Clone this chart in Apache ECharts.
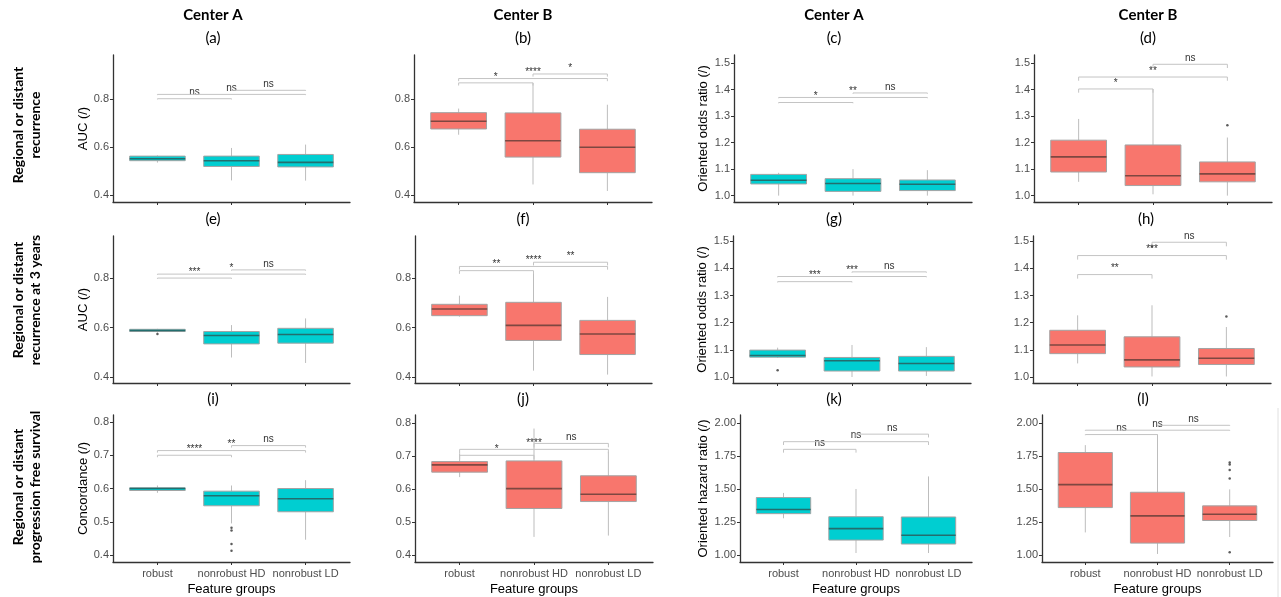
<!DOCTYPE html>
<html>
<head>
<meta charset="utf-8">
<script src="https://cdn.jsdelivr.net/npm/echarts@6/dist/echarts.min.js"></script>
<style>
  html, body { margin: 0; padding: 0; background: #fff; }
  #chart { width: 1281px; height: 597px; }
</style>
</head>
<body>
<div id="chart"></div>
<script>
const groups = ["robust", "nonrobust HD", "nonrobust LD"];
const aucTicks = [0.4, 0.6, 0.8];
const concTicks = [0.4, 0.5, 0.6, 0.7, 0.8];
const oddsTicks = [1.0, 1.1, 1.2, 1.3, 1.4, 1.5];
const hazardTicks = [1.0, 1.25, 1.5, 1.75, 2.0];

// box stats per group: [min, q1, median, q3, max]
// outliers: [groupIndex, value]; brackets: [from, to, height, label]
const aBox = [[0.535, 0.543, 0.551, 0.562, 0.565], [0.461, 0.519, 0.543, 0.562, 0.596], [0.46, 0.517, 0.536, 0.569, 0.61]];
const aOut = [];
const aSig = [[0, 1, 0.801, "ns"], [0, 2, 0.819, "ns"], [1, 2, 0.836, "ns"]];

const bBox = [[0.651, 0.675, 0.707, 0.743, 0.76], [0.444, 0.558, 0.626, 0.742, 0.867], [0.417, 0.493, 0.599, 0.674, 0.776]];
const bOut = [];
const bSig = [[0, 1, 0.867, "*"], [0, 2, 0.885, "****"], [1, 2, 0.904, "*"]];

const cBox = [[1.0, 1.044, 1.058, 1.08, 1.086], [1.0, 1.016, 1.046, 1.064, 1.1], [1.0, 1.019, 1.043, 1.059, 1.096]];
const cOut = [];
const cSig = [[0, 1, 1.351, "*"], [0, 2, 1.37, "**"], [1, 2, 1.387, "ns"]];

const dBox = [[1.052, 1.089, 1.146, 1.209, 1.289], [1.005, 1.038, 1.075, 1.191, 1.402], [1.0, 1.052, 1.082, 1.127, 1.219]];
const dOut = [[2, 1.265]];
const dSig = [[0, 1, 1.402, "*"], [0, 2, 1.447, "**"], [1, 2, 1.495, "ns"]];

const eBox = [[0.58, 0.584, 0.588, 0.593, 0.595], [0.479, 0.534, 0.568, 0.584, 0.61], [0.457, 0.537, 0.572, 0.597, 0.637]];
const eOut = [[0, 0.574]];
const eSig = [[0, 1, 0.8, "***"], [0, 2, 0.816, "*"], [1, 2, 0.833, "ns"]];

const fBox = [[0.644, 0.648, 0.675, 0.694, 0.729], [0.426, 0.548, 0.609, 0.702, 0.827], [0.41, 0.491, 0.574, 0.629, 0.724]];
const fOut = [];
const fSig = [[0, 1, 0.83, "**"], [0, 2, 0.847, "****"], [1, 2, 0.864, "**"]];

const gBox = [[1.07, 1.073, 1.079, 1.099, 1.108], [1.0, 1.022, 1.06, 1.072, 1.118], [1.004, 1.022, 1.05, 1.076, 1.11]];
const gOut = [[0, 1.025]];
const gSig = [[0, 1, 1.351, "***"], [0, 2, 1.37, "***"], [1, 2, 1.387, "ns"]];

const hBox = [[1.05, 1.086, 1.118, 1.172, 1.227], [1.002, 1.037, 1.063, 1.148, 1.264], [1.002, 1.046, 1.069, 1.105, 1.184]];
const hOut = [[1, 1.48], [2, 1.223]];
const hSig = [[0, 1, 1.377, "**"], [0, 2, 1.447, "***"], [1, 2, 1.496, "ns"]];

const iBox = [[0.587, 0.594, 0.6, 0.602, 0.609], [0.495, 0.548, 0.578, 0.592, 0.609], [0.446, 0.53, 0.569, 0.6, 0.625]];
const iOut = [[1, 0.482], [1, 0.474], [1, 0.433], [1, 0.413]];
const iSig = [[0, 1, 0.7, "****"], [0, 2, 0.714, "**"], [1, 2, 0.729, "ns"]];

const jBox = [[0.636, 0.651, 0.673, 0.683, 0.708], [0.455, 0.541, 0.601, 0.685, 0.783], [0.459, 0.562, 0.584, 0.64, 0.713]];
const jOut = [];
const jSig = [[0, 1, 0.702, "*"], [0, 2, 0.72, "****"], [1, 2, 0.738, "ns"]];

const kBox = [[1.278, 1.313, 1.345, 1.435, 1.47], [1.015, 1.113, 1.2, 1.29, 1.5], [1.015, 1.083, 1.15, 1.288, 1.595]];
const kOut = [];
const kSig = [[0, 1, 1.8, "ns"], [0, 2, 1.858, "ns"], [1, 2, 1.915, "ns"]];

const lBox = [[1.171, 1.359, 1.533, 1.776, 1.832], [1.008, 1.09, 1.296, 1.475, 1.912], [1.136, 1.261, 1.309, 1.372, 1.497]];
const lOut = [[2, 1.7], [2, 1.686], [2, 1.643], [2, 1.58], [2, 1.02]];
const lSig = [[0, 1, 1.912, "ns"], [0, 2, 1.945, "ns"], [1, 2, 1.982, "ns"]];

const teal = { fill: "#00CED1", med: "#236e6e" };
const red = { fill: "#F8766D", med: "#7e4741" };

// layout of each panel
const panels = [
  { box: aBox, out: aOut, sig: aSig, c: teal, left: 113, top: 55, width: 237, height: 147, min: 0.371, max: 0.983, ticks: aucTicks, dig: 1, tip: 0.003, yName: "AUC (/)", gap: 22 },
  { box: bBox, out: bOut, sig: bSig, c: red, left: 414, top: 55, width: 238, height: 147, min: 0.371, max: 0.983, ticks: aucTicks, dig: 1, tip: 0.011 },
  { box: cBox, out: cOut, sig: cSig, c: teal, left: 734, top: 55, width: 238, height: 147, min: 0.976, max: 1.53, ticks: oddsTicks, dig: 1, tip: 0.003, yName: "Oriented odds ratio (/)", gap: 24 },
  { box: dBox, out: dOut, sig: dSig, c: red, left: 1034, top: 55, width: 238, height: 147, min: 0.976, max: 1.53, ticks: oddsTicks, dig: 1, tip: 0.014 },
  { box: eBox, out: eOut, sig: eSig, c: teal, left: 113, top: 236, width: 237, height: 147, min: 0.376, max: 0.97, ticks: aucTicks, dig: 1, tip: 0.003, yName: "AUC (/)", gap: 22 },
  { box: fBox, out: fOut, sig: fSig, c: red, left: 415, top: 236, width: 237, height: 147, min: 0.376, max: 0.97, ticks: aucTicks, dig: 1, tip: 0.013 },
  { box: gBox, out: gOut, sig: gSig, c: teal, left: 733, top: 236, width: 238, height: 147, min: 0.978, max: 1.519, ticks: oddsTicks, dig: 1, tip: 0.003, yName: "Oriented odds ratio (/)", gap: 24 },
  { box: hBox, out: hOut, sig: hSig, c: red, left: 1033, top: 236, width: 238, height: 147, min: 0.978, max: 1.519, ticks: oddsTicks, dig: 1, tip: 0.015 },
  { box: iBox, out: iOut, sig: iSig, c: teal, left: 113, top: 415, width: 237, height: 148, min: 0.379, max: 0.821, ticks: concTicks, dig: 1, tip: 0.006, yName: "Concordance (/)", gap: 22, xl: true },
  { box: jBox, out: jOut, sig: jSig, c: red, left: 415, top: 415, width: 238, height: 148, min: 0.379, max: 0.824, ticks: concTicks, dig: 1, tip: 0.012, xl: true },
  { box: kBox, out: kOut, sig: kSig, c: teal, left: 740, top: 415, width: 232, height: 148, min: 0.947, max: 2.06, ticks: hazardTicks, dig: 2, tip: 0.025, yName: "Oriented hazard ratio (/)", gap: 30, xl: true },
  { box: lBox, out: lOut, sig: lSig, c: red, left: 1042, top: 415, width: 231, height: 148, min: 0.947, max: 2.06, ticks: hazardTicks, dig: 2, tip: 0.005, xl: true },
];

const axisColor = "#333";
const labelColor = "#4d4d4d";
const font = "Liberation Sans";

const grid = [], xAxis = [], yAxis = [], series = [];

panels.forEach((p, i) => {
  grid.push({ left: p.left, top: p.top, width: p.width, height: p.height });
  xAxis.push({
    gridIndex: i, type: "value", min: -0.6, max: 2.6,
    axisLine: { show: true, onZero: false, lineStyle: { color: axisColor, width: 1.3 } },
    axisTick: { show: true, customValues: [0, 1, 2], length: 3, lineStyle: { color: axisColor } },
    axisLabel: { show: !!p.xl, customValues: [0, 1, 2], formatter: (v) => groups[Math.round(v)], color: labelColor, fontSize: 11, fontFamily: font, margin: 6 },
    splitLine: { show: false },
    name: p.xl ? "Feature groups" : "", nameLocation: "middle", nameGap: 21,
    nameTextStyle: { color: "#000", fontSize: 13, fontFamily: font },
  });
  yAxis.push({
    gridIndex: i, type: "value", min: p.min, max: p.max,
    axisLine: { show: true, onZero: false, lineStyle: { color: axisColor, width: 1.3 } },
    axisTick: { show: true, customValues: p.ticks, length: 3, lineStyle: { color: axisColor } },
    axisLabel: { customValues: p.ticks, formatter: (v) => v.toFixed(p.dig), color: labelColor, fontSize: 11, fontFamily: font, margin: 4 },
    splitLine: { show: false },
    name: p.yName || "", nameLocation: "middle", nameGap: p.gap || 20,
    nameTextStyle: { color: "#000", fontSize: 13, fontFamily: font },
  });

  // boxes
  series.push({
    type: "custom", xAxisIndex: i, yAxisIndex: i, silent: true,
    data: p.box.map((b, k) => [k].concat(b)),
    encode: { x: 0, y: [1, 2, 3, 4, 5] },
    renderItem: (params, api) => {
      const x = api.value(0);
      const w = api.size([1, 0])[0] * 0.75;
      const lo = api.coord([x, api.value(1)]);
      const q1 = api.coord([x, api.value(2)]);
      const md = api.coord([x, api.value(3)]);
      const q3 = api.coord([x, api.value(4)]);
      const hi = api.coord([x, api.value(5)]);
      const cx = lo[0];
      return {
        type: "group",
        children: [
          { type: "line", shape: { x1: cx, y1: hi[1], x2: cx, y2: q3[1] }, style: { stroke: "#bdbdbd", lineWidth: 1 } },
          { type: "line", shape: { x1: cx, y1: q1[1], x2: cx, y2: lo[1] }, style: { stroke: "#bdbdbd", lineWidth: 1 } },
          { type: "rect", shape: { x: cx - w / 2, y: q3[1], width: w, height: q1[1] - q3[1] }, style: { fill: p.c.fill, stroke: "#a3a3a3", lineWidth: 1 } },
          { type: "line", shape: { x1: cx - w / 2, y1: md[1], x2: cx + w / 2, y2: md[1] }, style: { stroke: p.c.med, lineWidth: 1.6 } },
        ],
      };
    },
  });

  // outliers
  series.push({
    type: "scatter", xAxisIndex: i, yAxisIndex: i, silent: true,
    data: p.out, symbolSize: 2.5, itemStyle: { color: "#333" },
  });

  // significance brackets
  series.push({
    type: "custom", xAxisIndex: i, yAxisIndex: i, silent: true,
    data: p.sig.map((s) => [s[0], s[1], s[2]]),
    encode: { x: [0, 1], y: 2 },
    renderItem: (params, api) => {
      const h = api.value(2);
      const a = api.coord([api.value(0), h]);
      const b = api.coord([api.value(1), h]);
      const ta = api.coord([api.value(0), h - p.tip]);
      return {
        type: "group",
        children: [
          { type: "polyline", shape: { points: [[a[0], ta[1]], a, b, [b[0], ta[1]]] }, style: { stroke: "#c4c4c4", lineWidth: 1, fill: null } },
          { type: "text", x: (a[0] + b[0]) / 2, y: a[1] - 1, style: { text: p.sig[params.dataIndex][3], fill: "#333", fontSize: 10, fontFamily: font, align: "center", verticalAlign: "bottom" } },
        ],
      };
    },
  });
});

const hdr = (text, x, y, size, weight) => ({
  type: "text", x: x, y: y,
  style: { text: text, fill: "#000", fontSize: size, fontWeight: weight, fontFamily: "Lato", align: "center", verticalAlign: "middle" },
});
const rowLabel = (text, y) => ({
  type: "text", x: 27, y: y, rotation: Math.PI / 2,
  style: { text: text, fill: "#000", fontSize: 14, fontWeight: "bold", fontFamily: "Lato", align: "center", verticalAlign: "middle", lineHeight: 17 },
});

const graphic = [
  hdr("Center A", 213, 15, 15, "bold"), hdr("Center B", 523, 15, 15, "bold"),
  hdr("Center A", 834, 15, 15, "bold"), hdr("Center B", 1148, 15, 15, "bold"),
  hdr("(a)", 213, 38, 15, "normal"), hdr("(b)", 523, 38, 15, "normal"),
  hdr("(c)", 834, 38, 15, "normal"), hdr("(d)", 1148, 38, 15, "normal"),
  hdr("(e)", 213, 219, 15, "normal"), hdr("(f)", 523, 219, 15, "normal"),
  hdr("(g)", 834, 219, 15, "normal"), hdr("(h)", 1146, 219, 15, "normal"),
  hdr("(i)", 213, 399, 15, "normal"), hdr("(j)", 523, 399, 15, "normal"),
  hdr("(k)", 834, 399, 15, "normal"), hdr("(l)", 1143, 399, 15, "normal"),
  rowLabel("Regional or distant\nrecurrence", 125),
  rowLabel("Regional or distant\nrecurrence at 3 years", 300),
  rowLabel("Regional or distant\nprogression free survival", 487),
  { type: "line", shape: { x1: 1278, y1: 408, x2: 1278, y2: 597 }, style: { stroke: "#e0e0e0", lineWidth: 1 } },
];

const chart = echarts.init(document.getElementById("chart"));
chart.setOption({
  animation: false,
  backgroundColor: "#fff",
  grid: grid,
  xAxis: xAxis,
  yAxis: yAxis,
  series: series,
  graphic: graphic,
});
</script>
</body>
</html>
